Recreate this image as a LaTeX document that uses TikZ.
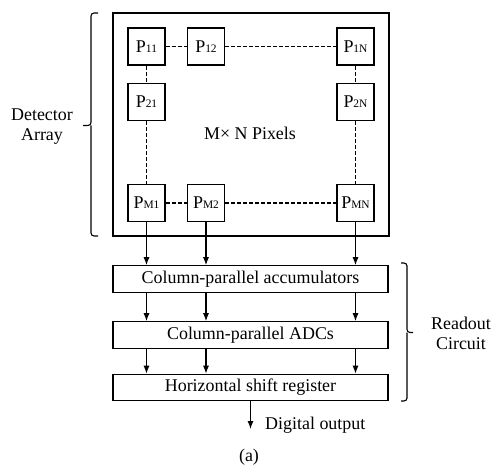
\documentclass[tikz,border=0pt]{standalone}
\usepackage{fontspec}
\setmainfont{Liberation Serif}
\usetikzlibrary{arrows.meta,calc}
\newcommand{\pidx}[1]{{\fontsize{11.5}{11.5}\selectfont #1}}
\begin{document}
\begin{tikzpicture}[x=1bp,y=-1bp,
  every node/.style={font=\fontsize{18}{20}\selectfont, inner sep=0pt},
  pix/.style={draw, line width=1.1bp, minimum width=37bp, minimum height=37bp},
  bar/.style={draw, line width=1.1bp, minimum width=275bp, minimum height=26.5bp},
  dotcon/.style={dash pattern=on 4bp off 2bp, line width=1.1bp},
  arr/.style={line width=1.1bp, -{Latex[length=8bp,width=6bp]}},
  brk/.style={line width=1.1bp, rounded corners=3bp}
]
\useasboundingbox (0,0) rectangle (493,466);
% detector array
\node[draw, line width=1.1bp, minimum width=276bp, minimum height=223bp] (det) at (251,124.5) {};
\node[pix] (p11) at (146.5,46.5) {P\pidx{11}};
\node[pix] (p12) at (206,46.5) {P\pidx{12}};
\node[pix] (p1n) at (355.5,46.5) {P\pidx{1N}};
\node[pix] (p21) at (146.5,102) {P\pidx{21}};
\node[pix] (p2n) at (355.5,102) {P\pidx{2N}};
\node[pix] (pm1) at (146.5,203) {P\pidx{M1}};
\node[pix] (pm2) at (206,203) {P\pidx{M2}};
\node[pix] (pmn) at (355.5,203) {P\pidx{MN}};
\node (mn) at (250,133) {M× N Pixels};
\draw[dotcon] (p11) -- (p12);
\draw[dotcon] (p12) -- (p1n);
\draw[dotcon] (p11) -- (p21);
\draw[dotcon] (p21) -- (pm1);
\draw[dotcon] (p1n) -- (p2n);
\draw[dotcon] (p2n) -- (pmn);
\draw[dotcon] (pm1) -- (pm2);
\draw[dotcon] (pm2) -- (pmn);
% readout
\node[bar] (acc) at (250.5,279) {Column-parallel accumulators};
\node[bar] (adc) at (250.5,335) {Column-parallel ADCs};
\node[bar] (sr) at (250.5,387.5) {Horizontal shift register};
\foreach \c in {pm1,pm2,pmn}{
  \draw[arr] (\c) -- (\c |- acc.north);
  \draw[arr] (acc.south -| \c) -- (adc.north -| \c);
  \draw[arr] (adc.south -| \c) -- (sr.north -| \c);
}
\coordinate (out) at (250.5,429);
\draw[arr] (sr) -- (out);
\node[anchor=west] (dout) at (265,425) {Digital output};
\node (cap) at (249,457) {(a)};
% brackets
\draw[brk] (98,13) -- (91,13) -- (91,125.5) -- (83,125.5);
\draw[brk] (98,236) -- (91,236) -- (91,125.5);
\draw[brk] (401,263) -- (407,263) -- (407,332.5) -- (413,332.5);
\draw[brk] (401,401) -- (407,401) -- (407,332.5);
\node[align=center] (detlbl) at (42,127) {Detector\\Array};
\node[align=center] (rolbl) at (461,333) {Readout\\Circuit};
\end{tikzpicture}
\end{document}
